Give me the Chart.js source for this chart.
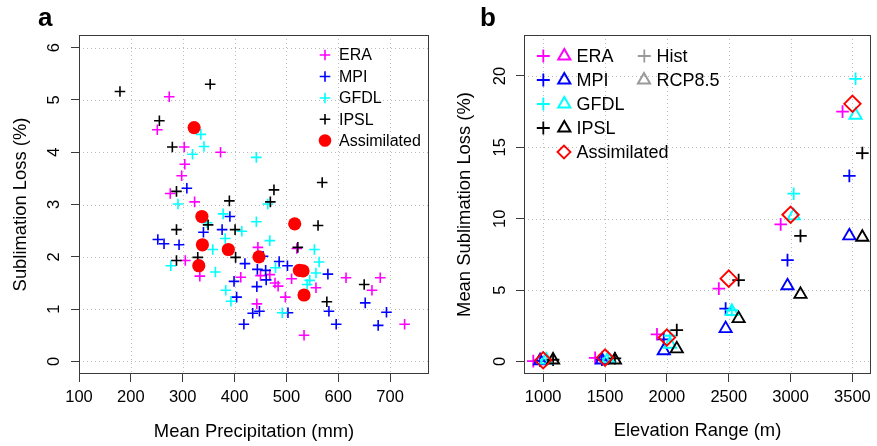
<!DOCTYPE html>
<html><head><meta charset="utf-8">
<script src="https://cdn.jsdelivr.net/npm/chart.js@4"></script>
<style>
html,body{margin:0;padding:0;background:#fff;}
#wrap{position:relative;width:877px;height:446px;overflow:hidden;background:#fff;}
#ca{position:absolute;left:0;top:0;}
#cb{position:absolute;left:440px;top:0;}
</style></head><body>
<div id="wrap"><canvas id="ca" width="440" height="446"></canvas><canvas id="cb" width="437" height="446"></canvas></div>
<script>
// ---------- Panel a data: mean precipitation (mm) vs sublimation loss (%) ----------
const eraPrecip = [274,251,303,373,304,298,276,323,445,520,305,333,450,468,412,478,484,443,615,681,510,557,665,498,728,534];
const eraLoss   = [5.06,4.43,4.10,4.00,3.77,3.55,3.21,3.05,2.18,2.16,1.93,1.63,1.64,1.66,1.61,1.50,1.44,1.10,1.60,1.60,1.58,1.41,1.36,1.23,0.71,0.50];
const mpiPrecip = [308,391,340,376,252,264,293,420,444,460,399,461,443,404,435,448,418,455,486,502,580,652,582,503,693,596,677];
const mpiLoss   = [3.31,2.77,2.47,2.52,2.33,2.25,2.23,1.87,1.76,1.74,1.53,1.56,1.43,1.23,0.92,0.96,0.71,2.01,1.91,1.83,1.67,1.12,0.96,0.93,0.94,0.71,0.69];
const gfdlPrecip = [335,341,319,442,291,464,378,347,414,442,382,468,358,277,363,479,383,393,554,563,557,545,540,492];
const gfdlLoss   = [4.34,4.11,3.96,3.90,3.01,3.01,2.82,2.65,2.49,2.67,2.35,2.31,2.14,1.83,1.71,1.79,1.36,1.15,2.14,1.90,1.69,1.55,1.47,0.93];
const ipslPrecip = [179,353,255,280,288,476,390,469,349,401,288,288,329,402,569,561,522,650,578];
const ipslLoss   = [5.16,5.30,4.60,4.10,3.25,3.28,3.07,3.05,2.61,2.52,2.52,1.93,1.99,1.99,3.42,2.60,2.18,1.47,1.14];
const assimPrecip = [322,337,338,388,447,331,516,525,532,534];
const assimLoss   = [4.47,2.77,2.23,2.14,2.00,1.83,2.63,1.74,1.73,1.27];
const aXTicks = [100,200,300,400,500,600,700];
const aYTicks = [0,1,2,3,4,5,6];

// ---------- Panel b data: elevation range (m) vs mean sublimation loss (%) ----------
const elevBins = [1000,1500,2000,2500,3000,3500];
const modelShift = {ERA:-80, MPI:-25, GFDL:25, IPSL:80, Assimilated:0}; // side-by-side dodge (m)
const eraHist  = [0.02,0.25,1.90,5.10,9.60,17.50];
const mpiHist  = [0.05,0.12,1.55,3.70,7.10,13.00];
const gfdlHist = [0.10,0.20,1.80,3.60,11.75,19.80];
const ipslHist = [0.12,0.22,2.20,5.70,8.80,14.60];
const mpiRcp   = [0.05,0.10,0.75,2.30,5.30,8.80];
const gfdlRcp  = [0.10,0.18,1.20,3.50,10.20,17.25];
const ipslRcp  = [0.10,0.10,0.88,3.00,4.70,8.70];
const assimB   = [0.08,0.27,1.68,5.80,10.28,18.05];
const bXTicks = [1000,1500,2000,2500,3000,3500];
const bYTicks = [0,5,10,15,20];

const FONT = "'Liberation Sans', Arial, Helvetica, sans-serif";
const C = {ERA:'#ff00ff', MPI:'#0000ff', GFDL:'#00ffff', IPSL:'#000000', Assim:'#ff0000', grey:'#9a9a9a'};

function pts(xs, ys){ return xs.map((v,i)=>({x:v, y:ys[i]})); }
function binPts(vals, shift){ return elevBins.map((b,i)=>({x:b+shift, y:vals[i]})); }

function marker(ctx, style, x, y, r, color, lw){
  ctx.save();
  ctx.strokeStyle = color; ctx.fillStyle = color; ctx.lineWidth = lw; ctx.setLineDash([]);
  ctx.beginPath();
  if (style === 'cross'){ ctx.moveTo(x-r,y); ctx.lineTo(x+r,y); ctx.moveTo(x,y-r); ctx.lineTo(x,y+r); ctx.stroke(); }
  else if (style === 'triangle'){
    for (let i=0;i<3;i++){ const a=i*2*Math.PI/3; const px=x+Math.sin(a)*r, py=y-Math.cos(a)*r; if(i) ctx.lineTo(px,py); else ctx.moveTo(px,py); }
    ctx.closePath(); ctx.stroke();
  }
  else if (style === 'rectRot'){ ctx.moveTo(x-r,y); ctx.lineTo(x,y-r); ctx.lineTo(x+r,y); ctx.lineTo(x,y+r); ctx.closePath(); ctx.stroke(); }
  else if (style === 'circle'){ ctx.arc(x,y,r,0,2*Math.PI); ctx.fill(); }
  ctx.restore();
}

function deco(cfg){
  return {
    id: 'deco' + cfg.letter,
    beforeDatasetsDraw(chart){
      const {ctx, chartArea:a, scales:{x,y}} = chart;
      ctx.save();
      ctx.beginPath(); ctx.rect(a.left, a.top, a.right-a.left, a.bottom-a.top); ctx.clip();
      ctx.strokeStyle = '#bdbdbd'; ctx.lineWidth = 1; ctx.setLineDash([1,3]);
      ctx.beginPath();
      cfg.xTicks.forEach(v=>{ const px=Math.round(x.getPixelForValue(v))+0.5; ctx.moveTo(px,a.top); ctx.lineTo(px,a.bottom); });
      cfg.yTicks.forEach(v=>{ const py=Math.round(y.getPixelForValue(v))+0.5; ctx.moveTo(a.left,py); ctx.lineTo(a.right,py); });
      ctx.stroke(); ctx.restore();
    },
    afterDraw(chart){
      const {ctx, chartArea:a, scales:{x,y}} = chart;
      ctx.save();
      ctx.strokeStyle = '#3a3a3a'; ctx.lineWidth = 1; ctx.setLineDash([]);
      ctx.strokeRect(a.left+0.5, a.top+0.5, a.right-a.left-1, a.bottom-a.top-1);
      // y tick labels (rotated, R style)
      ctx.fillStyle = '#000'; ctx.font = `16.5px ${FONT}`; ctx.textAlign='center'; ctx.textBaseline='middle';
      y.ticks.forEach(t=>{ const py=y.getPixelForValue(t.value); ctx.save(); ctx.translate(cfg.yLabX, py); ctx.rotate(-Math.PI/2); ctx.fillText(String(t.value),0,0); ctx.restore(); });
      // axis titles
      ctx.font = `18.4px ${FONT}`;
      ctx.fillText(cfg.xTitle, (a.left+a.right)/2, cfg.xTitleY);
      ctx.save(); ctx.translate(cfg.yTitleX, (a.top+a.bottom)/2); ctx.rotate(-Math.PI/2); ctx.fillText(cfg.yTitle,0,0); ctx.restore();
      // panel letter
      ctx.font = `bold 26px ${FONT}`; ctx.textAlign='left'; ctx.textBaseline='alphabetic';
      ctx.fillText(cfg.letter, cfg.letterX, cfg.letterY);
      // legend
      ctx.font = `${cfg.legFont}px ${FONT}`; ctx.textBaseline='middle';
      cfg.legend.forEach(e=>{
        e.marks.forEach(m=>marker(ctx, m.style, m.x, e.y, m.r, m.color, m.lw));
        ctx.fillStyle='#000'; ctx.fillText(e.text, e.tx, e.y+1);
      });
      ctx.restore();
    }
  };
}

function makeOptions(xr, yr, xTicks, yTicks, yW, padRight){
  return {
    responsive:false, animation:false, events:[],
    layout:{ padding:{top:35, right:padRight, left:0, bottom:0}, autoPadding:false },
    plugins:{ legend:{display:false}, tooltip:{enabled:false} },
    scales:{
      x:{ type:'linear', min:xr[0], max:xr[1],
          afterBuildTicks:s=>{ s.ticks = xTicks.map(v=>({value:v})); },
          afterFit:s=>{ s.height = 72; },
          grid:{ drawOnChartArea:false, drawTicks:true, tickLength:8, tickColor:'#3a3a3a', tickWidth:1 },
          border:{ display:false },
          ticks:{ color:'#000', font:{family:FONT, size:16.5}, padding:6, maxRotation:0, minRotation:0, autoSkip:false, callback:v=>String(v) } },
      y:{ type:'linear', min:yr[0], max:yr[1],
          afterBuildTicks:s=>{ s.ticks = yTicks.map(v=>({value:v})); },
          afterFit:s=>{ s.width = yW; },
          grid:{ drawOnChartArea:false, drawTicks:true, tickLength:8, tickColor:'#3a3a3a', tickWidth:1 },
          border:{ display:false },
          ticks:{ display:false } }
    }
  };
}

// ---------- Panel a ----------
const crossA = (label, data, color, order)=>({label, data, pointStyle:'cross', pointRadius:5.3, borderColor:color, backgroundColor:color, borderWidth:1.6, showLine:false, order});
new Chart(document.getElementById('ca'), {
  type:'scatter',
  data:{ datasets:[
    {label:'Assimilated', data:pts(assimPrecip, assimLoss), pointStyle:'circle', pointRadius:6.6, backgroundColor:C.Assim, borderColor:C.Assim, borderWidth:0, showLine:false, order:0},
    crossA('IPSL', pts(ipslPrecip, ipslLoss), C.IPSL, 1),
    crossA('GFDL', pts(gfdlPrecip, gfdlLoss), C.GFDL, 2),
    crossA('MPI', pts(mpiPrecip, mpiLoss), C.MPI, 3),
    crossA('ERA', pts(eraPrecip, eraLoss), C.ERA, 4)
  ]},
  options: makeOptions([100,775], [-0.24,6.24], aXTicks, aYTicks, 79, 11),
  plugins:[deco({
    letter:'a', letterX:38, letterY:26, xTicks:aXTicks, yTicks:aYTicks, yLabX:54,
    xTitle:'Mean Precipitation (mm)', xTitleY:432, yTitle:'Sublimation Loss (%)', yTitleX:21,
    legFont:16,
    legend:[
      {text:'ERA', y:55, tx:339, marks:[{style:'cross', x:325, r:5.3, color:C.ERA, lw:1.6}]},
      {text:'MPI', y:76.5, tx:339, marks:[{style:'cross', x:325, r:5.3, color:C.MPI, lw:1.6}]},
      {text:'GFDL', y:98, tx:339, marks:[{style:'cross', x:325, r:5.3, color:C.GFDL, lw:1.6}]},
      {text:'IPSL', y:119.3, tx:339, marks:[{style:'cross', x:325, r:5.3, color:C.IPSL, lw:1.6}]},
      {text:'Assimilated', y:140.5, tx:339, marks:[{style:'circle', x:325, r:6.3, color:C.Assim, lw:0}]}
    ]
  })]
});

// ---------- Panel b ----------
const crossB = (label, data, color, order)=>({label, data, pointStyle:'cross', pointRadius:6.3, borderColor:color, backgroundColor:color, borderWidth:1.8, showLine:false, order});
const triB = (label, data, color, order)=>({label, data, pointStyle:'triangle', pointRadius:7, borderColor:color, backgroundColor:'rgba(0,0,0,0)', borderWidth:1.9, showLine:false, order});
new Chart(document.getElementById('cb'), {
  type:'scatter',
  data:{ datasets:[
    {label:'Assimilated', data:binPts(assimB, modelShift.Assimilated), pointStyle:'rectRot', pointRadius:8.2, borderColor:C.Assim, backgroundColor:'rgba(0,0,0,0)', borderWidth:1.9, showLine:false, order:0},
    triB('IPSL RCP8.5', binPts(ipslRcp, modelShift.IPSL), C.IPSL, 1),
    triB('GFDL RCP8.5', binPts(gfdlRcp, modelShift.GFDL), C.GFDL, 2),
    triB('MPI RCP8.5', binPts(mpiRcp, modelShift.MPI), C.MPI, 3),
    crossB('IPSL Hist', binPts(ipslHist, modelShift.IPSL), C.IPSL, 4),
    crossB('GFDL Hist', binPts(gfdlHist, modelShift.GFDL), C.GFDL, 5),
    crossB('MPI Hist', binPts(mpiHist, modelShift.MPI), C.MPI, 6),
    crossB('ERA Hist', binPts(eraHist, modelShift.ERA), C.ERA, 7)
  ]},
  options: makeOptions([845,3650], [-0.88,22.87], bXTicks, bYTicks, 84, 4),
  plugins:[deco({
    letter:'b', letterX:40, letterY:26, xTicks:bXTicks, yTicks:bYTicks, yLabX:60,
    xTitle:'Elevation Range (m)', xTitleY:431, yTitle:'Mean Sublimation Loss (%)', yTitleX:25,
    legFont:18,
    legend:[
      {text:'ERA', y:56, tx:136.5, marks:[{style:'cross', x:103.3, r:6.5, color:C.ERA, lw:1.8},{style:'triangle', x:124.3, r:7, color:C.ERA, lw:2}]},
      {text:'MPI', y:80, tx:136.5, marks:[{style:'cross', x:103.3, r:6.5, color:C.MPI, lw:1.8},{style:'triangle', x:124.3, r:7, color:C.MPI, lw:2}]},
      {text:'GFDL', y:104, tx:136.5, marks:[{style:'cross', x:103.3, r:6.5, color:C.GFDL, lw:1.8},{style:'triangle', x:124.3, r:7, color:C.GFDL, lw:2}]},
      {text:'IPSL', y:128, tx:136.5, marks:[{style:'cross', x:103.3, r:6.5, color:C.IPSL, lw:1.8},{style:'triangle', x:124.3, r:7, color:C.IPSL, lw:2}]},
      {text:'Assimilated', y:152, tx:136.5, marks:[{style:'rectRot', x:124, r:6.5, color:C.Assim, lw:1.8}]},
      {text:'Hist', y:56, tx:216.5, marks:[{style:'cross', x:204.3, r:6.5, color:C.grey, lw:1.8}]},
      {text:'RCP8.5', y:80, tx:216.5, marks:[{style:'triangle', x:204, r:7, color:C.grey, lw:2}]}
    ]
  })]
});
</script>
</body></html>
